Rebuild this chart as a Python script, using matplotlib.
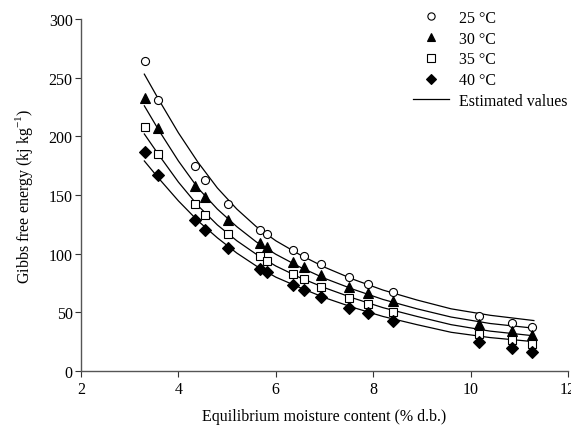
import matplotlib
matplotlib.use("Agg")
import matplotlib.pyplot as plt
from matplotlib.lines import Line2D

moisture = [3.31, 3.59, 4.35, 4.55, 5.02, 5.68, 5.81, 6.36, 6.58, 6.93,
            7.51, 7.89, 8.41, 10.18, 10.86, 11.27]
g_25 = [264.5, 231, 174.4, 163, 142.6, 120.5, 116.8, 103.4, 98.3, 91,
        80.4, 74.4, 67.6, 47.1, 40.9, 37.8]
g_30 = [233, 207, 158, 148, 129, 109, 105.4, 93.2, 88.3, 81.8,
        71.9, 66.2, 59.4, 40, 33.8, 30.7]
g_35 = [207.6, 184.6, 142.4, 133, 116.5, 97.8, 94, 83, 78.4, 71.9,
        62.5, 56.8, 50.6, 31.8, 26.1, 23.3]
g_40 = [186.7, 167, 128.4, 120, 104.6, 87, 84.7, 73.3, 69, 62.8,
        54, 49.2, 42.6, 24.4, 19.3, 15.9]

# Valeurs estimées (courbes)
moisture_fit = [3.3, 3.6, 4.0, 4.4, 4.8, 5.2, 5.6, 6.0, 6.5, 7.0,
                7.6, 8.2, 8.9, 9.6, 10.4, 11.3]
fit_25 = [253, 231, 203, 178, 156, 138, 123, 111, 99, 88.5,
          78, 69, 60.5, 53, 47.5, 43]
fit_30 = [226, 205, 179, 156, 138, 123, 110, 99.5, 88.5, 79,
          69.5, 61, 53, 46, 40.5, 36.5]
fit_35 = [202, 184, 161, 141, 124.5, 111, 99.5, 89.5, 79.5, 71,
          62, 54, 46.5, 39.5, 34, 30]
fit_40 = [179, 164, 145, 128, 113.5, 100.5, 89.5, 80, 71, 62.5,
          54, 46.5, 39.5, 33, 28.5, 25]

labels = ["25 °C", "30 °C", "35 °C", "40 °C"]

plt.rcParams["font.family"] = ["Liberation Serif", "DejaVu Serif"]
plt.rcParams["font.size"] = 11.5

fig = plt.figure(figsize=(5.71, 4.35), dpi=100)
ax = fig.add_axes([0.1419, 0.1448, 0.8528, 0.8092])

styles = [
    dict(marker="o", mfc="white", mec="black", ms=5.8),
    dict(marker="^", mfc="black", mec="black", ms=6.8),
    dict(marker="s", mfc="white", mec="black", ms=6.0),
    dict(marker="D", mfc="black", mec="black", ms=5.8),
]

for fit in [fit_25, fit_30, fit_35, fit_40]:
    ax.plot(moisture_fit, fit, color="black", lw=0.9, zorder=2)

handles = []
for g, st, lab in zip([g_25, g_30, g_35, g_40], styles, labels):
    ax.plot(moisture, g, ls="none", mew=0.8, zorder=3, **st)
    handles.append(Line2D([], [], ls="none", mew=0.8, label=lab, **st))
handles.append(Line2D([], [], color="black", lw=0.9, label="Estimated values"))

ax.set_xlim(2, 12)
ax.set_ylim(0, 300)
ax.set_xticks([2, 4, 6, 8, 10, 12])
ax.set_yticks([0, 50, 100, 150, 200, 250, 300])

for side in ["top", "right"]:
    ax.spines[side].set_visible(False)
for side in ["left", "bottom"]:
    ax.spines[side].set_color("#555555")
    ax.spines[side].set_linewidth(1.0)
ax.tick_params(direction="out", length=4, width=0.8, color="#333333")
ax.tick_params(axis="x", pad=3)
ax.tick_params(axis="y", pad=2)

ax.set_xlabel("Equilibrium moisture content (% d.b.)", labelpad=8)
ax.set_ylabel("Gibbs free energy (kj kg$^{\\mathregular{-1}}$)", labelpad=10)

ax.legend(handles=handles, loc="upper left", bbox_to_anchor=(0.7228, 0.975),
          bbox_transform=fig.transFigure, frameon=False, borderpad=0,
          borderaxespad=0, handlelength=2.3, handletextpad=0.58,
          labelspacing=0.3, markerscale=0.9, fontsize=11.5)

fig.savefig("out.png", dpi=100)
